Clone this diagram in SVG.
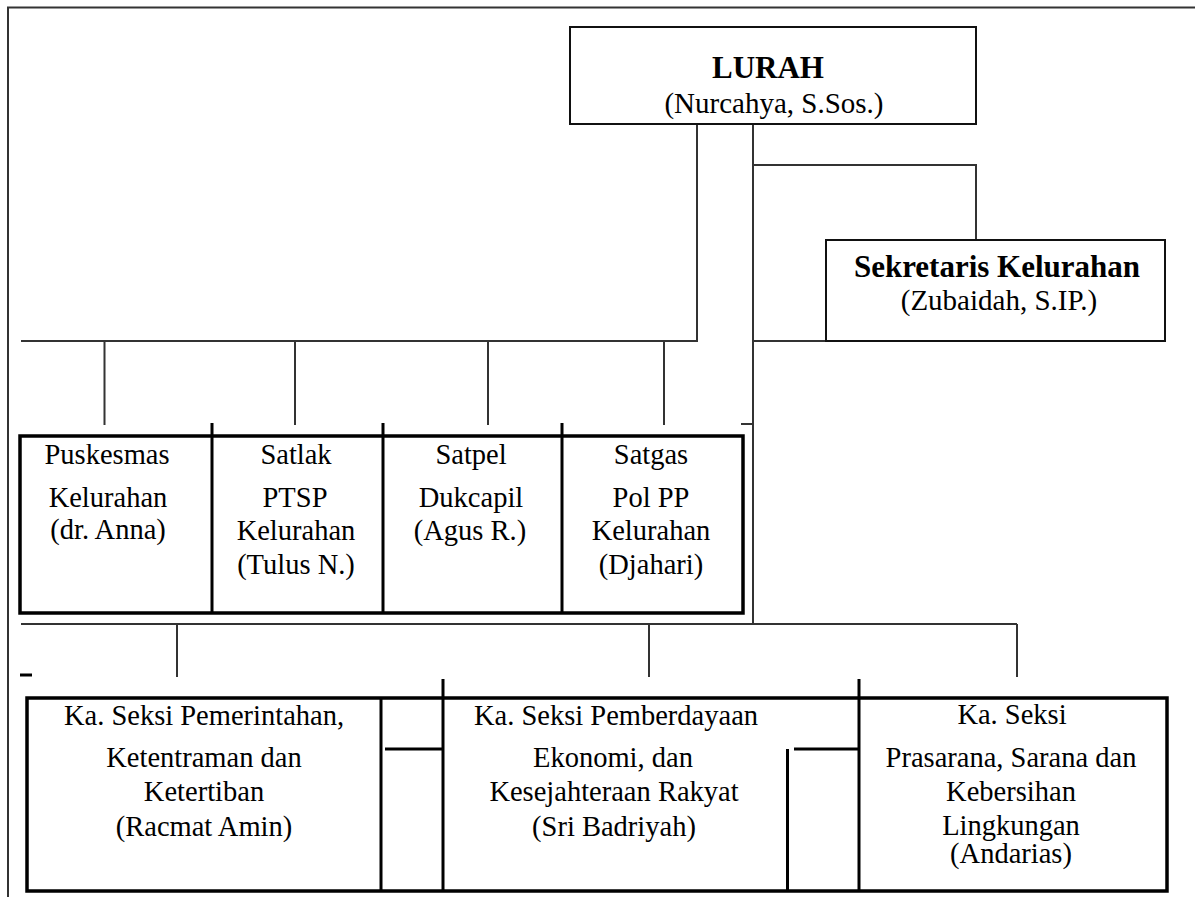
<svg xmlns="http://www.w3.org/2000/svg" width="1195" height="898" viewBox="0 0 1195 898">
<style>
.t{font-family:"Liberation Serif","Times New Roman",serif;fill:#000;text-anchor:middle}
.b{font-weight:bold;font-size:31px}
.r{font-size:29px}
.s{font-size:28.5px}
.box{fill:none;stroke:#111;stroke-width:2}
.thick{fill:none;stroke:#000;stroke-width:3.5}
.c{fill:none;stroke:#333;stroke-width:2}
.k{fill:none;stroke:#000;stroke-width:3}
</style>
<rect width="1195" height="898" fill="#fff"/>
<g id="frame">
<path class="c" d="M8 897V7.5H1195"/>
</g>
<g id="connectors">
<path class="c" d="M697 124V341H21"/>
<path class="c" d="M753 124V624"/>
<path class="c" d="M753 165H976V240"/>
<path class="c" d="M753 341H826"/>
<path class="c" d="M104.5 341V425M295 341V425M488 341V425M664 341V425"/>
<path class="c" d="M741 424H753"/>
<path class="c" d="M21 624H1017"/>
<path class="c" d="M177 624V677M649 624V677M1017 624V677"/>
<path class="k" d="M20 675H32"/>
<path class="k" d="M212 423V613M383 423V613M562 423V613"/>
<path class="k" d="M381 698V891M443 679V891M859 679V891"/>
<path class="k" d="M385 749H443M794 749H859"/>
<path class="k" d="M787.5 749V891"/>
</g>
<g id="lurah">
<rect class="box" x="570" y="27" width="406" height="97"/>
<text class="t b" x="768" y="78">LURAH</text>
<text class="t r" x="774" y="113">(Nurcahya, S.Sos.)</text>
</g>
<g id="sekretaris">
<rect class="box" x="826" y="240" width="339" height="101"/>
<text class="t b" x="997" y="277">Sekretaris Kelurahan</text>
<text class="t r" x="999" y="310">(Zubaidah, S.IP.)</text>
</g>
<g id="unit-row">
<rect class="thick" x="20" y="436" width="723" height="177"/>
</g>
<g id="puskesmas">
<text class="t s" x="107" y="464">Puskesmas</text>
<text class="t s" x="108" y="507">Kelurahan</text>
<text class="t s" x="108" y="539">(dr. Anna)</text>
</g>
<g id="satlak">
<text class="t s" x="296" y="464">Satlak</text>
<text class="t s" x="295" y="507">PTSP</text>
<text class="t s" x="296" y="540">Kelurahan</text>
<text class="t s" x="296" y="574">(Tulus N.)</text>
</g>
<g id="satpel">
<text class="t s" x="471" y="464">Satpel</text>
<text class="t s" x="471" y="507">Dukcapil</text>
<text class="t s" x="470" y="540">(Agus R.)</text>
</g>
<g id="satgas">
<text class="t s" x="651" y="464">Satgas</text>
<text class="t s" x="651" y="507">Pol PP</text>
<text class="t s" x="651" y="540">Kelurahan</text>
<text class="t s" x="651" y="574">(Djahari)</text>
</g>
<g id="seksi-row">
<rect class="thick" x="27" y="698" width="1140" height="193"/>
</g>
<g id="seksi-pemerintahan">
<text class="t s" x="204" y="725">Ka. Seksi Pemerintahan,</text>
<text class="t s" x="204" y="767">Ketentraman dan</text>
<text class="t s" x="204" y="801">Ketertiban</text>
<text class="t s" x="204" y="836">(Racmat Amin)</text>
</g>
<g id="seksi-pemberdayaan">
<text class="t s" x="616" y="725">Ka. Seksi Pemberdayaan</text>
<text class="t s" x="613" y="767">Ekonomi, dan</text>
<text class="t s" x="614" y="801">Kesejahteraan Rakyat</text>
<text class="t s" x="614" y="836">(Sri Badriyah)</text>
</g>
<g id="seksi-prasarana">
<text class="t s" x="1012" y="724">Ka. Seksi</text>
<text class="t s" x="1011" y="767">Prasarana, Sarana dan</text>
<text class="t s" x="1011" y="801">Kebersihan</text>
<text class="t s" x="1011" y="835">Lingkungan</text>
<text class="t s" x="1011" y="863">(Andarias)</text>
</g>
</svg>
